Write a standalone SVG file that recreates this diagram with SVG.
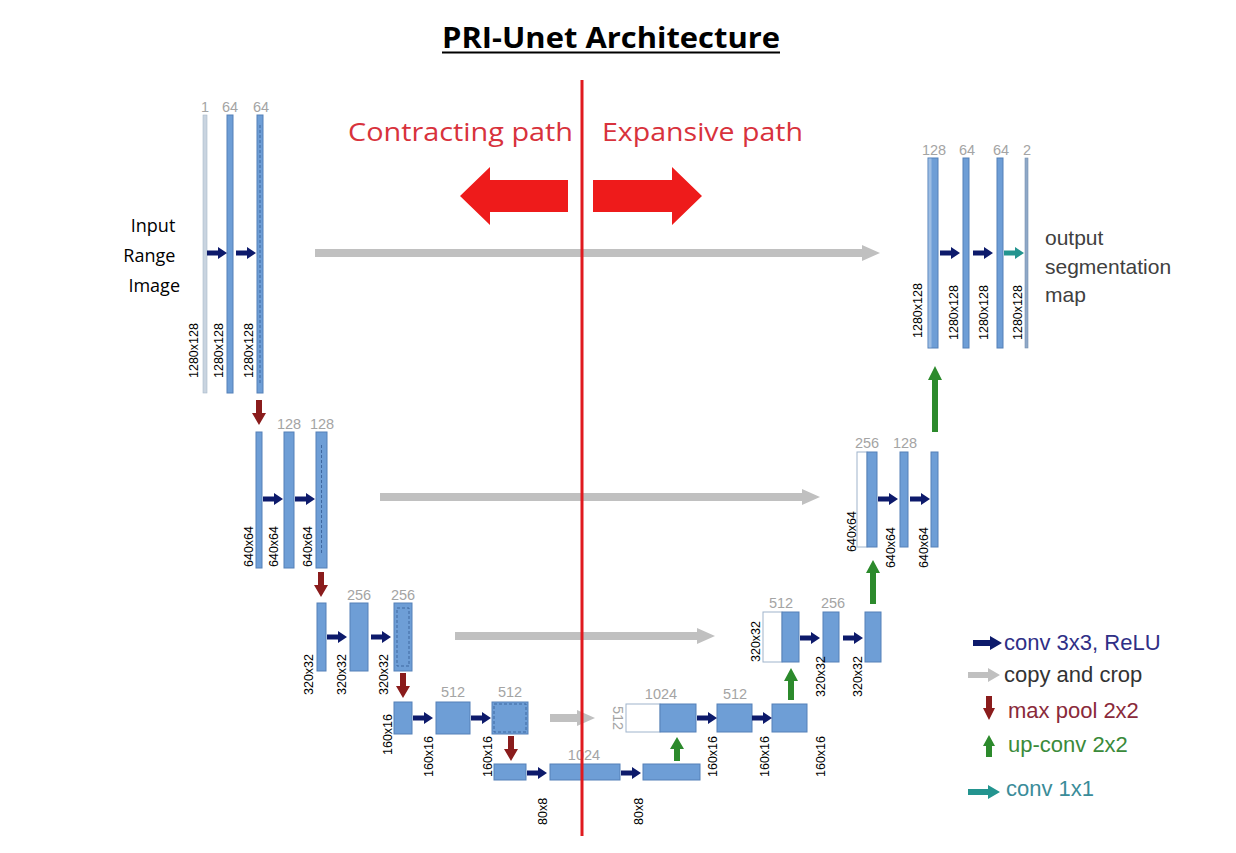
<svg xmlns="http://www.w3.org/2000/svg" width="1236" height="853" viewBox="0 0 1236 853">
<style>
.blk{fill:#6e9ed6;stroke:#5580b8;stroke-width:1}
.wht{fill:#ffffff;stroke:#9fb4cc;stroke-width:1}
.thin{fill:#c9d4e0;stroke:#a8b8ca;stroke-width:0.6}
.dash{fill:none;stroke:#3f68a0;stroke-width:1;stroke-dasharray:3 2}
.ch{font-family:"Liberation Sans",Arial,sans-serif;font-size:14.5px;fill:#a4a4a4;text-anchor:middle}
.dim{font-family:"Liberation Sans",Arial,sans-serif;font-size:12.5px;fill:#000}
.conv{fill:#0d1a6b}
.c11{fill:#23948f}
.pool{fill:#8a1c1c}
.up{fill:#2c8a2c}
.copy{fill:#c0c0c0}
.leg{font-family:"Liberation Sans",Arial,sans-serif;font-size:22px}
</style>
<defs>
<path id="cv" d="M0,-2.5 H11 V-6 L20,0 L11,6 V2.5 H0 Z"/>
<path id="pl" d="M-3,0 H3 V13 H7 L0,25 L-7,13 H-3 Z"/>
</defs>

<rect width="1236" height="853" fill="#ffffff"/>

<g id="title">
<text x="611" y="48" font-family="'Open Sans',sans-serif" font-weight="700" font-size="29" text-anchor="middle" textLength="338" lengthAdjust="spacingAndGlyphs" fill="#000">PRI-Unet Architecture</text>
<line x1="442" y1="52.5" x2="780" y2="52.5" stroke="#000" stroke-width="2"/>
</g>

<g id="paths-indicator">
<text x="348" y="141" font-family="'Open Sans',sans-serif" font-size="25" fill="#d8323c" textLength="225" lengthAdjust="spacingAndGlyphs">Contracting path</text>
<text x="602" y="141" font-family="'Open Sans',sans-serif" font-size="25" fill="#d8323c" textLength="201" lengthAdjust="spacingAndGlyphs">Expansive path</text>
<path d="M568,180 H490 V167 L460,196 L490,225 V212 H568 Z" fill="#ee1b1b"/>
<path d="M593,180 H672 V167 L702,196 L672,225 V212 H593 Z" fill="#ee1b1b"/>
</g>

<g id="input-label">
<text font-family="'Open Sans',sans-serif" font-size="18" text-anchor="end" fill="#000">
<tspan x="180" y="232">Input</tspan>
<tspan x="180" y="262">Range</tspan>
<tspan x="180" y="292">Image</tspan>
</text>
</g>

<g id="output-label">
<text font-family="'Liberation Sans',Arial,sans-serif" font-size="21" fill="#404040">
<tspan x="1045" y="245">output</tspan>
<tspan x="1045" y="274">segmentation</tspan>
<tspan x="1045" y="302">map</tspan>
</text>
</g>

<g id="enc1">
<rect class="thin" x="203" y="115" width="4" height="278"/>
<rect class="blk" x="227" y="115" width="6" height="278"/>
<rect class="blk" x="257" y="115" width="6" height="278"/>
<line class="dash" x1="260" y1="125" x2="260" y2="385"/>
<text class="ch" x="205" y="112">1</text>
<text class="ch" x="230" y="112">64</text>
<text class="ch" x="261" y="112">64</text>
<text class="dim" transform="translate(197.5,378) rotate(-90)">1280x128</text>
<text class="dim" transform="translate(222.5,378) rotate(-90)">1280x128</text>
<text class="dim" transform="translate(252.5,378) rotate(-90)">1280x128</text>
</g>

<g id="enc2">
<rect class="blk" x="256" y="432" width="6" height="136"/>
<rect class="blk" x="284" y="432" width="10" height="136"/>
<rect class="blk" x="316" y="432" width="11" height="136"/>
<line class="dash" x1="321.5" y1="445" x2="321.5" y2="555"/>
<text class="ch" x="289" y="429">128</text>
<text class="ch" x="322" y="429">128</text>
<text class="dim" transform="translate(252.5,567) rotate(-90)">640x64</text>
<text class="dim" transform="translate(277.5,567) rotate(-90)">640x64</text>
<text class="dim" transform="translate(311.5,567) rotate(-90)">640x64</text>
</g>

<g id="enc3">
<rect class="blk" x="317" y="603" width="9" height="68"/>
<rect class="blk" x="350" y="603" width="18" height="68"/>
<rect class="blk" x="394" y="603" width="18" height="68"/>
<rect class="dash" x="397" y="608" width="12" height="58"/>
<text class="ch" x="359" y="600">256</text>
<text class="ch" x="403" y="600">256</text>
<text class="dim" transform="translate(312.5,695) rotate(-90)">320x32</text>
<text class="dim" transform="translate(345.5,695) rotate(-90)">320x32</text>
<text class="dim" transform="translate(387.5,695) rotate(-90)">320x32</text>
</g>

<g id="enc4">
<rect class="blk" x="394" y="702" width="18" height="32"/>
<rect class="blk" x="436" y="702" width="34" height="32"/>
<rect class="blk" x="492" y="702" width="36" height="32"/>
<rect class="dash" x="494" y="704" width="32" height="28"/>
<text class="ch" x="453" y="697">512</text>
<text class="ch" x="510" y="697">512</text>
<text class="dim" transform="translate(391.5,755) rotate(-90)">160x16</text>
<text class="dim" transform="translate(432.5,777) rotate(-90)">160x16</text>
<text class="dim" transform="translate(491.5,777) rotate(-90)">160x16</text>
</g>

<g id="bottleneck">
<rect class="blk" x="494" y="764" width="32" height="16"/>
<rect class="blk" x="550" y="764" width="70" height="16"/>
<rect class="blk" x="643" y="764" width="57" height="16"/>
<text class="ch" x="584" y="760">1024</text>
<text class="dim" transform="translate(546.5,825) rotate(-90)">80x8</text>
<text class="dim" transform="translate(642.5,825) rotate(-90)">80x8</text>
</g>

<g id="dec4">
<rect class="wht" x="626" y="704" width="34" height="28"/>
<rect class="blk" x="660" y="704" width="36" height="28"/>
<rect class="blk" x="717" y="704" width="35" height="28"/>
<rect class="blk" x="772" y="704" width="35" height="28"/>
<text class="ch" x="661" y="699">1024</text>
<text class="ch" x="735" y="699">512</text>
<text class="ch" transform="translate(613,718) rotate(90)">512</text>
<text class="dim" transform="translate(716.5,777) rotate(-90)">160x16</text>
<text class="dim" transform="translate(768.5,777) rotate(-90)">160x16</text>
<text class="dim" transform="translate(824.5,777) rotate(-90)">160x16</text>
</g>

<g id="dec3">
<rect class="wht" x="763" y="612" width="19" height="50"/>
<rect class="blk" x="782" y="612" width="17" height="50"/>
<rect class="blk" x="823" y="612" width="16" height="50"/>
<rect class="blk" x="865" y="612" width="16" height="50"/>
<text class="ch" x="781" y="608">512</text>
<text class="ch" x="833" y="608">256</text>
<text class="dim" transform="translate(759.5,662) rotate(-90)">320x32</text>
<text class="dim" transform="translate(824.5,697) rotate(-90)">320x32</text>
<text class="dim" transform="translate(861.5,697) rotate(-90)">320x32</text>
</g>

<g id="dec2">
<rect class="wht" x="857" y="452" width="10" height="95"/>
<rect class="blk" x="867" y="452" width="10" height="95"/>
<rect class="blk" x="900" y="452" width="8" height="95"/>
<rect class="blk" x="931" y="452" width="7" height="95"/>
<text class="ch" x="867" y="448">256</text>
<text class="ch" x="905" y="448">128</text>
<text class="dim" transform="translate(855.5,552) rotate(-90)">640x64</text>
<text class="dim" transform="translate(894.5,568) rotate(-90)">640x64</text>
<text class="dim" transform="translate(927.5,568) rotate(-90)">640x64</text>
</g>

<g id="dec1">
<rect class="blk" x="928" y="158" width="10" height="190"/>
<rect x="928.5" y="158.5" width="3" height="189" fill="#9dbde3"/>
<rect class="blk" x="963" y="158" width="6" height="190"/>
<rect class="blk" x="997" y="158" width="6" height="190"/>
<rect class="thin" x="1025" y="158" width="3" height="190" style="fill:#8fa8c8;stroke:#7790b0"/>
<text class="ch" x="934" y="155">128</text>
<text class="ch" x="967" y="155">64</text>
<text class="ch" x="1001" y="155">64</text>
<text class="ch" x="1027" y="155">2</text>
<text class="dim" transform="translate(921.5,338) rotate(-90)">1280x128</text>
<text class="dim" transform="translate(957.5,340) rotate(-90)">1280x128</text>
<text class="dim" transform="translate(987.5,340) rotate(-90)">1280x128</text>
<text class="dim" transform="translate(1021.5,340) rotate(-90)">1280x128</text>
</g>

<g id="connectors">
<path class="copy" d="M315,249 H862 V245 L880,253 L862,261 V257 H315 Z"/>
<path class="copy" d="M380,493 H802 V489 L820,497 L802,505 V501 H380 Z"/>
<path class="copy" d="M455,632 H697 V628 L715,636 L697,644 V640 H455 Z"/>
<path class="copy" d="M550,714 H577 V710 L595,718 L577,726 V722 H550 Z"/>
<use href="#cv" class="conv" transform="translate(207,253)"/>
<use href="#cv" class="conv" transform="translate(236,253)"/>
<use href="#cv" class="conv" transform="translate(263,499)"/>
<use href="#cv" class="conv" transform="translate(295,499)"/>
<use href="#cv" class="conv" transform="translate(327,637)"/>
<use href="#cv" class="conv" transform="translate(371,637)"/>
<use href="#cv" class="conv" transform="translate(413,718)"/>
<use href="#cv" class="conv" transform="translate(471,718)"/>
<use href="#cv" class="conv" transform="translate(527,773)"/>
<use href="#cv" class="conv" transform="translate(621,773)"/>
<use href="#cv" class="conv" transform="translate(697,718)"/>
<use href="#cv" class="conv" transform="translate(752,718)"/>
<use href="#cv" class="conv" transform="translate(800,638)"/>
<use href="#cv" class="conv" transform="translate(843,638)"/>
<use href="#cv" class="conv" transform="translate(878,499)"/>
<use href="#cv" class="conv" transform="translate(910,499)"/>
<use href="#cv" class="conv" transform="translate(940,253)"/>
<use href="#cv" class="conv" transform="translate(973,253)"/>
<use href="#cv" class="c11" transform="translate(1004,253)"/>
<use href="#pl" class="pool" transform="translate(259,400)"/>
<use href="#pl" class="pool" transform="translate(321,572)"/>
<use href="#pl" class="pool" transform="translate(403,673)"/>
<use href="#pl" class="pool" transform="translate(511,736)"/>
<path class="up" d="M674,761 H680 V749 H684 L677,737 L670,749 H674 Z"/>
<path class="up" d="M788,700 H794 V681 H798 L791,668 L784,681 H788 Z"/>
<path class="up" d="M870,604 H876 V573 H880 L873,560 L866,573 H870 Z"/>
<path class="up" d="M932,432 H938 V380 H942 L935,366 L928,380 H932 Z"/>
</g>

<g id="divider">
<line x1="582" y1="80" x2="582" y2="836" stroke="#e01a1f" stroke-width="3"/>
</g>

<g id="legend">
<path class="conv" d="M973,640 H990 V636 L1002,643 L990,650 V646 H973 Z"/>
<text class="leg" x="1004" y="650" fill="#2f2f86">conv 3x3, ReLU</text>
<path class="copy" d="M968,672 H988 V668 L1000,675 L988,682 V678 H968 Z"/>
<text class="leg" x="1004" y="682" fill="#333333">copy and crop</text>
<path class="pool" d="M986,696 H992 V708 H995 L989,720 L983,708 H986 Z"/>
<text class="leg" x="1008" y="718" fill="#8a2a3a">max pool 2x2</text>
<path class="up" d="M986,757 H992 V746 H995 L989,735 L983,746 H986 Z"/>
<text class="leg" x="1008" y="752" fill="#3a8a3a">up-conv 2x2</text>
<path class="c11" d="M968,789 H988 V785 L1000,792 L988,799 V795 H968 Z"/>
<text class="leg" x="1006" y="796" fill="#3a8c99">conv 1x1</text>
</g>
</svg>
